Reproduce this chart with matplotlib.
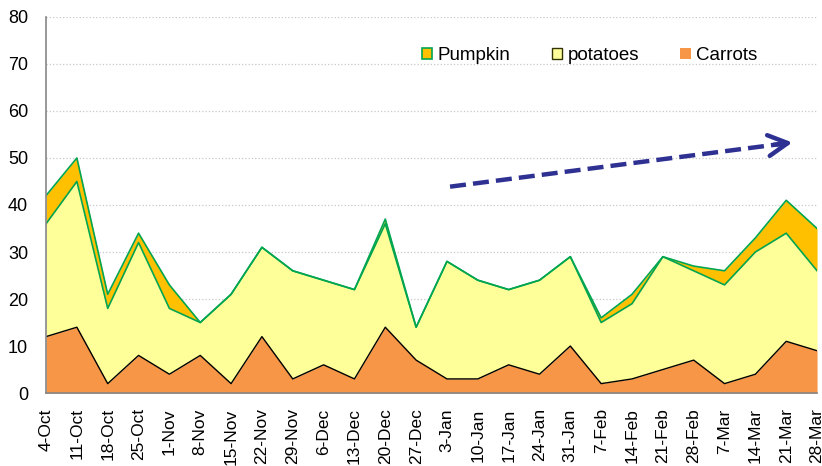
import numpy as np
import matplotlib
matplotlib.use("Agg")
import matplotlib.pyplot as plt
from matplotlib.patches import Patch

plt.rcParams['font.family'] = ['Liberation Sans', 'DejaVu Sans']

# Weekly data
weeks = ['4-Oct', '11-Oct', '18-Oct', '25-Oct', '1-Nov', '8-Nov', '15-Nov', '22-Nov',
         '29-Nov', '6-Dec', '13-Dec', '20-Dec', '27-Dec', '3-Jan', '10-Jan', '17-Jan',
         '24-Jan', '31-Jan', '7-Feb', '14-Feb', '21-Feb', '28-Feb', '7-Mar', '14-Mar',
         '21-Mar', '28-Mar']
carrots = [12, 14, 2, 8, 4, 8, 2, 12, 3, 6, 3, 14, 7, 3, 3, 6, 4, 10, 2, 3, 5, 7, 2, 4, 11, 9]
potatoes = [24, 31, 16, 24, 14, 7, 19, 19, 23, 18, 19, 22, 7, 25, 21, 16, 20, 19, 13, 16,
            24, 19, 21, 26, 23, 17]
pumpkin = [6, 5, 3, 2, 5, 0, 0, 0, 0, 0, 0, 1, 0, 0, 0, 0, 0, 0, 1, 2, 0, 1, 3, 3, 7, 9]

# trend arrow (data coords: week index, value)
trend_start = (13.1, 43.9)
trend_end = (24.2, 53.3)

c_carrot = '#F79646'
c_potato = '#FFFF99'
c_pumpkin = '#FFC000'
c_green = '#00A550'
c_arrow = '#2E3192'

x = np.arange(len(weeks))
carrots = np.array(carrots)
pot_top = carrots + np.array(potatoes)
pump_top = pot_top + np.array(pumpkin)

fig = plt.figure(figsize=(8.22, 4.66), dpi=100)
ax = fig.add_axes([0.056, 0.1566, 0.938, 0.807])

ax.fill_between(x, pot_top, pump_top, color=c_pumpkin, lw=0, zorder=2)
ax.fill_between(x, carrots, pot_top, color=c_potato, lw=0, zorder=2)
ax.fill_between(x, 0, carrots, color=c_carrot, lw=0, zorder=2)
ax.plot(x, carrots, color='black', lw=1.0, zorder=3)
ax.plot(x, pot_top, color=c_green, lw=1.2, zorder=3)
ax.plot(x, pump_top, color=c_green, lw=1.2, zorder=3)

# legend proxies
handles = [Patch(facecolor=c_pumpkin, edgecolor=c_green, lw=1.2, label='Pumpkin'),
           Patch(facecolor=c_potato, edgecolor='#333300', lw=1.0, label='potatoes'),
           Patch(facecolor=c_carrot, edgecolor=c_carrot, lw=0, label='Carrots')]
ax.legend(handles=handles, loc='center', bbox_to_anchor=(0.705, 0.898), ncol=3,
          frameon=False, fontsize=13.5, handlelength=0.55, handleheight=0.55,
          handletextpad=0.3, columnspacing=2.2)

# dashed trend arrow
ax.plot([trend_start[0], trend_end[0] - 0.15], [trend_start[1], trend_end[1] - 0.13],
        color=c_arrow, lw=3.2, ls=(0, (3.6, 1.6)), zorder=4)
ax.annotate('', xy=trend_end, xytext=(trend_end[0] - 0.6, trend_end[1] - 0.5),
            arrowprops=dict(arrowstyle='->,head_length=1.4,head_width=0.75',
                            color=c_arrow, lw=3.2, shrinkA=0, shrinkB=0), zorder=4)

ax.set_xlim(0, len(weeks) - 1)
ax.set_ylim(0, 80)
ax.set_yticks(range(0, 81, 10))
ax.set_xticks(x)
ax.set_xticklabels(weeks, rotation=90, fontsize=12.5)
ax.tick_params(axis='y', labelsize=13, length=0, pad=13)
ax.tick_params(axis='x', length=0, pad=11)
ax.yaxis.grid(True, color='#C8C8C8', ls=':', lw=0.9)
ax.set_axisbelow(True)
for s in ['top', 'right']:
    ax.spines[s].set_visible(False)
for s in ['left', 'bottom']:
    ax.spines[s].set_color('#868686')
    ax.spines[s].set_linewidth(1.2)
    ax.spines[s].set_zorder(5)

fig.savefig('out.png', dpi=100)
